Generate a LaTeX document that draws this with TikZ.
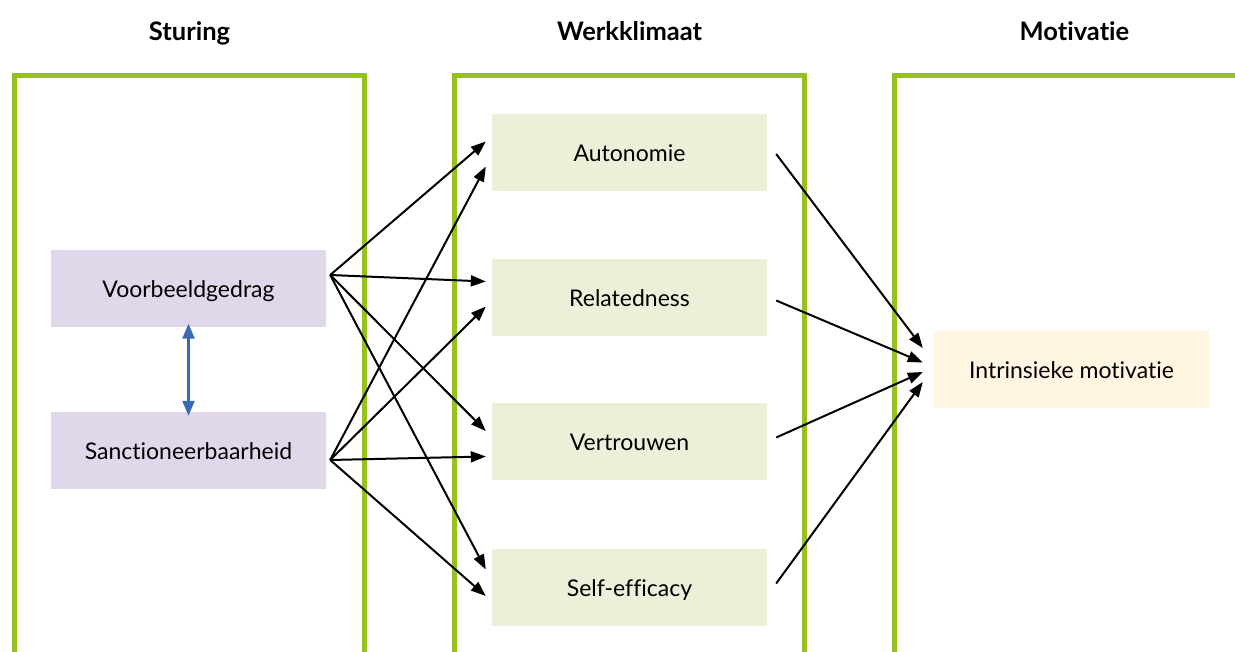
\documentclass[tikz,border=0pt]{standalone}
\usepackage{fontspec}
\setmainfont{Lato}[Ligatures={NoCommon}]
\usetikzlibrary{arrows.meta,calc}

\definecolor{frame}{RGB}{150,194,32}
\definecolor{lilac}{RGB}{225,215,234}
\definecolor{sage}{RGB}{235,240,217}
\definecolor{cream}{RGB}{255,245,225}
\definecolor{link}{RGB}{58,106,180}

\tikzset{
  colframe/.style={draw=frame, line width=5pt, miter limit=10},
  heading/.style={font=\bfseries\fontsize{25.5}{30}\selectfont, anchor=base},
  box/.style={minimum width=275pt, minimum height=77pt, inner sep=0pt,
    font=\fontsize{23}{27}\selectfont, text height=18pt, text depth=0pt},
  sturbox/.style={box, fill=lilac},
  klimbox/.style={box, fill=sage},
  motbox/.style={box, fill=cream},
  flow/.style={line width=2pt, -{Triangle[length=15pt,width=11pt]}},
  pair/.style={line width=2.4pt, color=link,
    {Triangle[length=15pt,width=12pt]}-{Triangle[length=15pt,width=12pt]}}
}

\begin{document}
\begin{tikzpicture}[x=1pt, y=-1pt]
  \useasboundingbox (0,0) rectangle (1235,652);

  % three open column frames
  \draw[colframe] (14.5,660) -- (14.5,76) -- (364.5,76) -- (364.5,660);
  \draw[colframe] (454.5,660) -- (454.5,76) -- (804.5,76) -- (804.5,660);
  \draw[colframe] (894.5,660) -- (894.5,76) -- (1245,76);

  % column headings
  \node[heading] (h1) at (189.5,41) {Sturing};
  \node[heading] (h2) at (629.5,41) {Werkklimaat};
  \node[heading] (h3) at (1074.5,41) {Motivatie};

  % boxes
  \node[sturbox] (vb) at (188.5,289) {Voorbeeldgedrag};
  \node[sturbox] (sb) at (188.5,450.5) {Sanctioneerbaarheid};
  \node[klimbox] (au) at (629.5,152.5) {Autonomie};
  \node[klimbox] (re) at (629.5,297.5) {Relatedness};
  \node[klimbox] (ve) at (629.5,441.5) {Vertrouwen};
  \node[klimbox] (se) at (629.5,587) {Self-efficacy};
  \node[motbox]  (im) at (1071.5,369.5) {Intrinsieke motivatie};

  % connector ports
  \coordinate (vb-o) at ([shift={(4,-14)}]vb.east);
  \coordinate (sb-o) at ([shift={(4,9.5)}]sb.east);
  \coordinate (au-a) at ([shift={(-6,-11)}]au.west);
  \coordinate (au-b) at ([shift={(-6,14)}]au.west);
  \coordinate (re-a) at ([shift={(-6,-16)}]re.west);
  \coordinate (re-b) at ([shift={(-6,9)}]re.west);
  \coordinate (ve-a) at ([shift={(-6,-10.5)}]ve.west);
  \coordinate (ve-b) at ([shift={(-6,15)}]ve.west);
  \coordinate (se-a) at ([shift={(-6,-17.5)}]se.west);
  \coordinate (se-b) at ([shift={(-6,9)}]se.west);
  \coordinate (au-o) at ([shift={(9,1.5)}]au.east);
  \coordinate (re-o) at ([shift={(9,3)}]re.east);
  \coordinate (ve-o) at ([shift={(9,-4)}]ve.east);
  \coordinate (se-o) at ([shift={(9,-3.5)}]se.east);
  \coordinate (im-a) at ([shift={(-11,-21.5)}]im.west);
  \coordinate (im-b) at ([shift={(-11,-7)}]im.west);
  \coordinate (im-c) at ([shift={(-11,2.5)}]im.west);
  \coordinate (im-d) at ([shift={(-11,12.5)}]im.west);

  % steering to climate
  \draw[flow] (vb-o) -- (au-a);
  \draw[flow] (vb-o) -- (re-a);
  \draw[flow] (vb-o) -- (ve-a);
  \draw[flow] (vb-o) -- (se-a);
  \draw[flow] (sb-o) -- (au-b);
  \draw[flow] (sb-o) -- (re-b);
  \draw[flow] (sb-o) -- (ve-b);
  \draw[flow] (sb-o) -- (se-b);

  % climate to motivation
  \draw[flow] (au-o) -- (im-a);
  \draw[flow] (re-o) -- (im-b);
  \draw[flow] (ve-o) -- (im-c);
  \draw[flow] (se-o) -- (im-d);

  % mutual link between the two steering styles
  \draw[pair] ([yshift=4]vb.south) -- ([yshift=-4]sb.north);
\end{tikzpicture}
\end{document}
